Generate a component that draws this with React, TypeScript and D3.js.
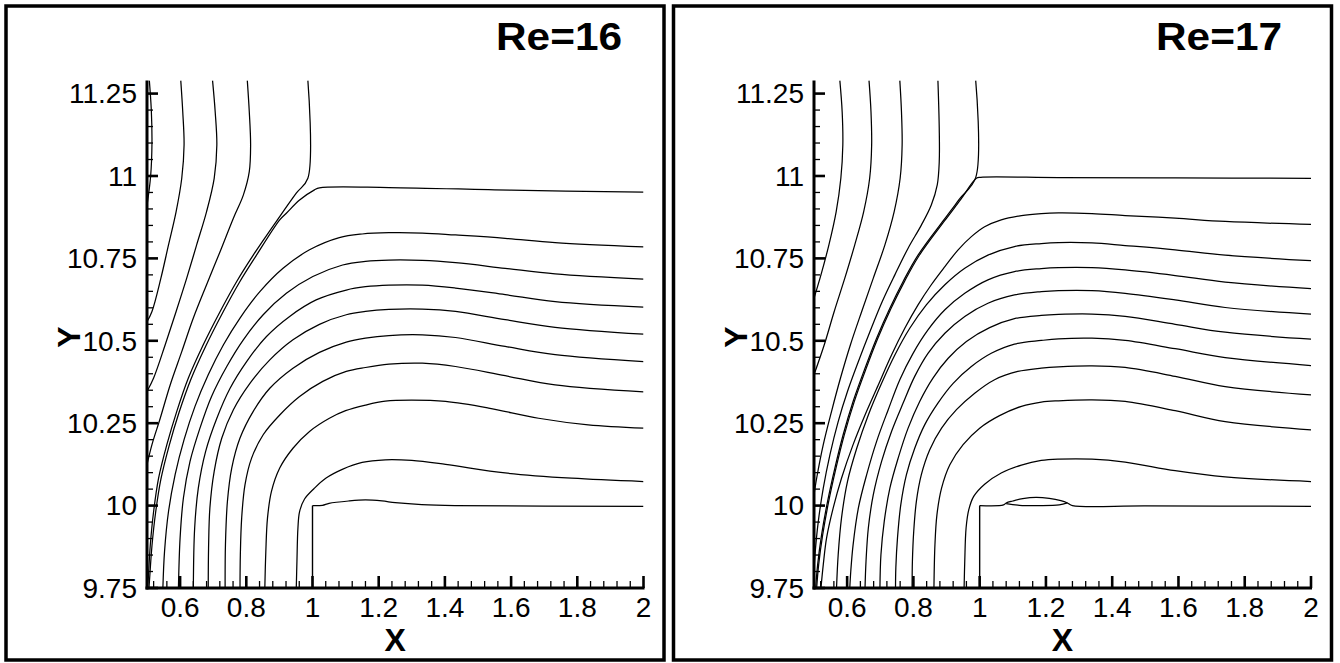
import React, { useRef, useEffect } from 'react';
import * as d3 from 'd3';

type Pt = [number, number];

const X_TICKS = [0.6, 0.8, 1, 1.2, 1.4, 1.6, 1.8, 2];
const Y_TICKS = [9.75, 10, 10.25, 10.5, 10.75, 11, 11.25];
const X_DOMAIN: Pt = [0.5, 2];
const Y_DOMAIN: Pt = [9.75, 11.29];
const X_MINOR_STEP = 0.04;
const Y_MINOR_STEP = 0.05;
const TITLES = ['Re=16', 'Re=17'];

// ---- Re=16 streamlines (x, y) ----
const re16A: Pt[] = [[0.507, 11.29], [0.513, 11.2], [0.515, 11.1], [0.511, 11.0], [0.5, 10.91]];
const re16B: Pt[] = [[0.602, 11.29], [0.608, 11.195], [0.612, 11.094], [0.605, 10.993], [0.588, 10.892], [0.565, 10.791], [0.542, 10.69], [0.515, 10.589], [0.5, 10.558]];
const re16C: Pt[] = [[0.698, 11.29], [0.706, 11.195], [0.711, 11.094], [0.703, 10.993], [0.68, 10.892], [0.65, 10.791], [0.62, 10.69], [0.588, 10.589], [0.555, 10.488], [0.52, 10.387], [0.5, 10.346]];
const re16D: Pt[] = [[0.803, 11.29], [0.809, 11.195], [0.813, 11.094], [0.809, 11.013], [0.791, 10.942], [0.761, 10.872], [0.721, 10.771], [0.68, 10.67], [0.64, 10.569], [0.605, 10.467], [0.57, 10.366], [0.54, 10.265], [0.515, 10.185], [0.5, 10.124]];
const re16E: Pt[] = [[0.986, 11.29], [0.986, 10.993], [0.951, 10.948], [0.894, 10.867], [0.821, 10.76], [0.771, 10.68], [0.721, 10.589], [0.67, 10.488], [0.625, 10.387], [0.59, 10.286], [0.56, 10.185], [0.535, 10.083], [0.52, 9.982], [0.51, 9.881], [0.504, 9.78], [0.502, 9.75]];
const re16R1: Pt[] = [[2.0, 10.951], [1.6, 10.957], [1.231, 10.965], [1.021, 10.964], [1.006, 10.958], [0.961, 10.927], [0.921, 10.887], [0.901, 10.867], [0.829, 10.757], [0.779, 10.677], [0.729, 10.586], [0.678, 10.485], [0.633, 10.384], [0.597, 10.283], [0.567, 10.182], [0.542, 10.08], [0.526, 9.979], [0.515, 9.878], [0.508, 9.78], [0.506, 9.75]];
const re16R2: Pt[] = [[2.0, 10.785], [1.733, 10.798], [1.582, 10.811], [1.432, 10.821], [1.332, 10.827], [1.231, 10.828], [1.15, 10.824], [1.081, 10.813], [0.991, 10.776], [0.911, 10.72], [0.841, 10.649], [0.781, 10.569], [0.731, 10.488], [0.685, 10.397], [0.645, 10.301], [0.612, 10.2], [0.585, 10.094], [0.565, 9.982], [0.553, 9.861], [0.548, 9.75]];
const re16R3: Pt[] = [[2.0, 10.687], [1.733, 10.703], [1.582, 10.72], [1.432, 10.737], [1.332, 10.744], [1.231, 10.745], [1.16, 10.741], [1.091, 10.73], [1.001, 10.695], [0.921, 10.644], [0.851, 10.579], [0.791, 10.503], [0.741, 10.422], [0.695, 10.331], [0.66, 10.235], [0.63, 10.134], [0.61, 10.023], [0.6, 9.902], [0.595, 9.75]];
const re16R4: Pt[] = [[2.0, 10.602], [1.733, 10.619], [1.582, 10.64], [1.432, 10.66], [1.332, 10.669], [1.231, 10.669], [1.16, 10.664], [1.102, 10.654], [1.011, 10.624], [0.931, 10.574], [0.861, 10.513], [0.801, 10.437], [0.751, 10.356], [0.711, 10.265], [0.677, 10.164], [0.655, 10.053], [0.644, 9.932], [0.64, 9.75]];
const re16R5: Pt[] = [[2.0, 10.52], [1.733, 10.541], [1.582, 10.564], [1.432, 10.589], [1.332, 10.596], [1.231, 10.595], [1.16, 10.589], [1.102, 10.579], [1.021, 10.55], [0.941, 10.503], [0.871, 10.442], [0.811, 10.371], [0.761, 10.291], [0.726, 10.205], [0.703, 10.104], [0.69, 9.993], [0.686, 9.871], [0.685, 9.75]];
const re16R6: Pt[] = [[2.0, 10.437], [1.733, 10.458], [1.582, 10.483], [1.432, 10.51], [1.332, 10.518], [1.231, 10.516], [1.16, 10.508], [1.102, 10.496], [1.021, 10.465], [0.941, 10.417], [0.871, 10.356], [0.821, 10.286], [0.781, 10.205], [0.756, 10.114], [0.743, 10.013], [0.737, 9.881], [0.736, 9.75]];
const re16R7: Pt[] = [[2.0, 10.345], [1.733, 10.366], [1.582, 10.394], [1.432, 10.422], [1.332, 10.432], [1.231, 10.429], [1.16, 10.419], [1.102, 10.407], [1.031, 10.377], [0.961, 10.331], [0.901, 10.275], [0.851, 10.215], [0.816, 10.144], [0.796, 10.063], [0.786, 9.962], [0.782, 9.851], [0.781, 9.75]];
const re16R8: Pt[] = [[2.0, 10.235], [1.833, 10.245], [1.683, 10.265], [1.532, 10.296], [1.402, 10.316], [1.3, 10.32], [1.22, 10.317], [1.16, 10.305], [1.1, 10.288], [1.051, 10.265], [0.991, 10.225], [0.941, 10.174], [0.901, 10.114], [0.876, 10.043], [0.864, 9.962], [0.859, 9.861], [0.856, 9.75]];
const re16R9: Pt[] = [[2.0, 10.073], [1.783, 10.083], [1.582, 10.099], [1.402, 10.125], [1.3, 10.137], [1.22, 10.139], [1.15, 10.131], [1.09, 10.11], [1.04, 10.083], [1.005, 10.052], [0.976, 10.02], [0.961, 9.982], [0.956, 9.932], [0.953, 9.831], [0.951, 9.75]];
const re16R10: Pt[] = [[1.0, 10.0], [1.03, 10.001], [1.05, 10.007], [1.11, 10.014], [1.16, 10.017], [1.21, 10.014], [1.25, 10.009], [1.33, 10.003], [1.43, 10.0], [2.0, 9.998]];
const re16Wall: Pt[] = [[1.0, 9.75], [1.0, 10.0]];

// ---- Re=17 streamlines ----
const re17A: Pt[] = [[0.578, 11.29], [0.585, 11.195], [0.587, 11.094], [0.581, 10.993], [0.567, 10.892], [0.545, 10.791], [0.521, 10.7], [0.5, 10.629]];
const re17B: Pt[] = [[0.666, 11.29], [0.672, 11.195], [0.674, 11.094], [0.668, 10.993], [0.65, 10.892], [0.623, 10.791], [0.593, 10.69], [0.561, 10.589], [0.531, 10.488], [0.5, 10.397]];
const re17C: Pt[] = [[0.759, 11.29], [0.764, 11.195], [0.766, 11.094], [0.76, 10.993], [0.742, 10.892], [0.714, 10.791], [0.679, 10.69], [0.644, 10.589], [0.61, 10.488], [0.58, 10.387], [0.553, 10.286], [0.528, 10.185], [0.508, 10.083], [0.5, 10.033]];
const re17D: Pt[] = [[0.874, 11.29], [0.878, 11.145], [0.878, 11.043], [0.872, 10.973], [0.854, 10.912], [0.824, 10.851], [0.784, 10.781], [0.744, 10.7], [0.706, 10.619], [0.669, 10.528], [0.634, 10.437], [0.601, 10.346], [0.573, 10.255], [0.548, 10.154], [0.528, 10.053], [0.513, 9.952], [0.503, 9.851], [0.5, 9.801]];
const re17E: Pt[] = [[0.988, 11.29], [0.988, 10.995], [0.94, 10.931], [0.892, 10.867], [0.814, 10.76], [0.769, 10.68], [0.729, 10.599], [0.689, 10.508], [0.654, 10.417], [0.618, 10.316], [0.588, 10.215], [0.563, 10.114], [0.541, 10.013], [0.523, 9.912], [0.511, 9.821], [0.505, 9.75]];
const re17R0: Pt[] = [[2.0, 10.993], [1.59, 10.994], [1.238, 10.995], [1.003, 10.996], [0.99, 10.993], [0.943, 10.929], [0.895, 10.865], [0.817, 10.758], [0.772, 10.678], [0.732, 10.597], [0.692, 10.506], [0.657, 10.415], [0.621, 10.314], [0.591, 10.213], [0.566, 10.112], [0.544, 10.011], [0.526, 9.91], [0.514, 9.82], [0.508, 9.75]];
const re17R1: Pt[] = [[2.0, 10.853], [1.741, 10.862], [1.59, 10.872], [1.439, 10.88], [1.339, 10.886], [1.238, 10.888], [1.186, 10.886], [1.126, 10.88], [1.065, 10.867], [1.015, 10.846], [0.975, 10.816], [0.935, 10.776], [0.895, 10.725], [0.854, 10.67], [0.814, 10.609], [0.774, 10.538], [0.734, 10.457], [0.694, 10.366], [0.654, 10.275], [0.618, 10.185], [0.583, 10.083], [0.558, 9.993], [0.538, 9.902], [0.528, 9.821], [0.521, 9.75]];
const re17R2: Pt[] = [[2.0, 10.743], [1.741, 10.76], [1.59, 10.776], [1.439, 10.789], [1.339, 10.797], [1.238, 10.798], [1.186, 10.795], [1.105, 10.786], [1.025, 10.76], [0.955, 10.72], [0.895, 10.67], [0.839, 10.609], [0.789, 10.538], [0.744, 10.457], [0.704, 10.371], [0.664, 10.275], [0.629, 10.174], [0.601, 10.073], [0.583, 9.962], [0.573, 9.851], [0.568, 9.75]];
const re17R3: Pt[] = [[2.0, 10.658], [1.741, 10.678], [1.59, 10.698], [1.439, 10.715], [1.339, 10.722], [1.238, 10.722], [1.186, 10.719], [1.105, 10.71], [1.025, 10.685], [0.955, 10.644], [0.895, 10.594], [0.844, 10.533], [0.799, 10.462], [0.759, 10.382], [0.724, 10.291], [0.689, 10.195], [0.659, 10.094], [0.634, 9.993], [0.618, 9.881], [0.611, 9.801], [0.608, 9.75]];
const re17R4: Pt[] = [[2.0, 10.581], [1.741, 10.601], [1.59, 10.624], [1.439, 10.644], [1.339, 10.652], [1.238, 10.652], [1.186, 10.649], [1.105, 10.639], [1.025, 10.614], [0.955, 10.574], [0.895, 10.523], [0.844, 10.462], [0.804, 10.392], [0.769, 10.311], [0.734, 10.225], [0.704, 10.134], [0.679, 10.033], [0.664, 9.932], [0.657, 9.831], [0.654, 9.75]];
const re17R5: Pt[] = [[2.0, 10.505], [1.741, 10.526], [1.59, 10.55], [1.439, 10.574], [1.339, 10.581], [1.238, 10.58], [1.186, 10.577], [1.105, 10.567], [1.03, 10.54], [0.96, 10.498], [0.905, 10.447], [0.859, 10.387], [0.819, 10.316], [0.784, 10.235], [0.754, 10.144], [0.729, 10.053], [0.712, 9.952], [0.702, 9.851], [0.699, 9.75]];
const re17R6: Pt[] = [[2.0, 10.425], [1.741, 10.449], [1.59, 10.476], [1.439, 10.501], [1.339, 10.508], [1.238, 10.506], [1.186, 10.501], [1.105, 10.49], [1.035, 10.462], [0.975, 10.422], [0.92, 10.371], [0.874, 10.311], [0.834, 10.245], [0.804, 10.174], [0.779, 10.094], [0.762, 10.003], [0.752, 9.902], [0.747, 9.811], [0.746, 9.75]];
const re17R7: Pt[] = [[2.0, 10.336], [1.741, 10.361], [1.59, 10.392], [1.439, 10.419], [1.339, 10.424], [1.238, 10.421], [1.186, 10.417], [1.115, 10.407], [1.045, 10.382], [0.985, 10.341], [0.93, 10.291], [0.885, 10.235], [0.849, 10.169], [0.824, 10.094], [0.809, 10.013], [0.801, 9.922], [0.797, 9.831], [0.796, 9.75]];
const re17R8: Pt[] = [[2.0, 10.23], [1.741, 10.255], [1.59, 10.288], [1.439, 10.316], [1.339, 10.321], [1.238, 10.318], [1.186, 10.314], [1.126, 10.301], [1.06, 10.273], [1.0, 10.235], [0.95, 10.185], [0.91, 10.124], [0.885, 10.053], [0.871, 9.972], [0.865, 9.881], [0.862, 9.75]];
const re17R9: Pt[] = [[2.0, 10.073], [1.741, 10.087], [1.59, 10.106], [1.439, 10.132], [1.339, 10.141], [1.238, 10.141], [1.186, 10.137], [1.126, 10.123], [1.065, 10.099], [1.015, 10.065], [0.982, 10.028], [0.967, 9.987], [0.959, 9.932], [0.955, 9.831], [0.953, 9.75]];
const re17R10: Pt[] = [[1.0, 10.0], [1.072, 10.002], [1.08, 10.008], [1.1, 10.014], [1.13, 10.021], [1.17, 10.025], [1.21, 10.022], [1.245, 10.015], [1.265, 10.008], [1.28, 10.0], [1.5, 9.999], [2.0, 9.998]];
const re17Bubble: Pt[] = [[1.08, 10.006], [1.12, 10.001], [1.18, 10.0], [1.24, 10.002], [1.265, 10.008]];
const re17Wall: Pt[] = [[1.0, 9.75], [1.0, 10.0]];

const re16Lines = [re16A, re16B, re16C, re16D, re16E, re16R1, re16R2, re16R3, re16R4, re16R5, re16R6, re16R7, re16R8, re16R9, re16R10];
const re17Lines = [re17A, re17B, re17C, re17D, re17E, re17R0, re17R1, re17R2, re17R3, re17R4, re17R5, re17R6, re17R7, re17R8, re17R9, re17R10, re17Bubble];

const FONT = "'Liberation Sans', Arial, Helvetica, sans-serif";

const PANELS = [
  { title: TITLES[0], lines: re16Lines, wall: re16Wall, frameX: 6, x0: 147, x1: 643.5, titleX: 622, yLabelX: 80 },
  { title: TITLES[1], lines: re17Lines, wall: re17Wall, frameX: 673.5, x0: 814, x1: 1311, titleX: 1282, yLabelX: 747 },
];

const isMajor = (v: number, step: number) => Math.abs(v / step - Math.round(v / step)) < 1e-6;

function drawPanel(svg: any, p: typeof PANELS[number], i: number) {
  const x = d3.scaleLinear().domain(X_DOMAIN).range([p.x0, p.x1]);
  const y = d3.scaleLinear().domain(Y_DOMAIN).range([588, 80.4]);
  const g = svg.append('g');

  g.append('rect')
    .attr('x', p.frameX).attr('y', 6).attr('width', 658).attr('height', 654)
    .attr('fill', 'none').attr('stroke', '#000').attr('stroke-width', 3.5);

  const clipId = 'plotclip' + i;
  g.append('clipPath').attr('id', clipId)
    .append('rect')
    .attr('x', x(X_DOMAIN[0])).attr('y', y(Y_DOMAIN[1]))
    .attr('width', x(X_DOMAIN[1]) - x(X_DOMAIN[0]))
    .attr('height', y(Y_DOMAIN[0]) - y(Y_DOMAIN[1]));

  const line = d3.line<Pt>().x(d => x(d[0])).y(d => y(d[1])).curve(d3.curveCatmullRom.alpha(0.5));
  const straight = d3.line<Pt>().x(d => x(d[0])).y(d => y(d[1]));

  const plot = g.append('g').attr('clip-path', `url(#${clipId})`);
  plot.selectAll('path.stream')
    .data(p.lines)
    .join('path')
    .attr('class', 'stream')
    .attr('d', line)
    .attr('fill', 'none')
    .attr('stroke', '#000')
    .attr('stroke-width', 1.25);
  plot.append('path').attr('d', straight(p.wall)).attr('fill', 'none').attr('stroke', '#000').attr('stroke-width', 1.4);

  // minor ticks
  const xMinor = d3.range(0.52, 2, X_MINOR_STEP).filter(v => !isMajor(v, 0.2));
  const yMinor = d3.range(9.8, 11.25, Y_MINOR_STEP).filter(v => !isMajor(v, 0.25));
  g.selectAll('line.xminor').data(xMinor).join('line')
    .attr('x1', d => x(d)).attr('x2', d => x(d))
    .attr('y1', y(9.75)).attr('y2', y(9.75) - 7)
    .attr('stroke', '#000').attr('stroke-width', 1.3);
  g.selectAll('line.yminor').data(yMinor).join('line')
    .attr('x1', x(0.5)).attr('x2', x(0.5) + 6)
    .attr('y1', d => y(d)).attr('y2', d => y(d))
    .attr('stroke', '#000').attr('stroke-width', 1.3);

  // major ticks
  g.selectAll('line.xmajor').data(X_TICKS).join('line')
    .attr('x1', d => x(d)).attr('x2', d => x(d))
    .attr('y1', y(9.75)).attr('y2', y(9.75) - 12)
    .attr('stroke', '#000').attr('stroke-width', 2.6);
  g.selectAll('line.ymajor').data(Y_TICKS).join('line')
    .attr('x1', x(0.5)).attr('x2', x(0.5) + 11)
    .attr('y1', d => y(d)).attr('y2', d => y(d))
    .attr('stroke', '#000').attr('stroke-width', 2.6);

  // axis lines
  g.append('line')
    .attr('x1', x(0.5)).attr('x2', x(0.5))
    .attr('y1', y(9.75) + 1.5).attr('y2', y(Y_DOMAIN[1]))
    .attr('stroke', '#000').attr('stroke-width', 3);
  g.append('line')
    .attr('x1', x(0.5) - 1.5).attr('x2', x(2) + 1)
    .attr('y1', y(9.75)).attr('y2', y(9.75))
    .attr('stroke', '#000').attr('stroke-width', 3);

  // tick labels
  g.selectAll('text.xlab').data(X_TICKS).join('text')
    .attr('x', d => x(d)).attr('y', 617)
    .attr('text-anchor', 'middle')
    .attr('font-family', FONT).attr('font-size', 28)
    .text(d => String(d));
  g.selectAll('text.ylab').data(Y_TICKS).join('text')
    .attr('x', x(0.5) - 10).attr('y', d => y(d))
    .attr('dy', '0.35em')
    .attr('text-anchor', 'end')
    .attr('font-family', FONT).attr('font-size', 28)
    .text(d => String(d));

  // axis titles
  g.append('text')
    .attr('x', (x(0.5) + x(2)) / 2).attr('y', 651)
    .attr('text-anchor', 'middle')
    .attr('font-family', FONT).attr('font-size', 32).attr('font-weight', 'bold')
    .text('X');
  g.append('text')
    .attr('transform', `translate(${p.yLabelX},${(y(9.75) + y(Y_DOMAIN[1])) / 2 + 3}) rotate(-90)`)
    .attr('text-anchor', 'middle')
    .attr('font-family', FONT).attr('font-size', 32).attr('font-weight', 'bold')
    .text('Y');

  // panel title
  g.append('text')
    .attr('x', p.titleX).attr('y', 50)
    .attr('text-anchor', 'end')
    .attr('font-family', FONT).attr('font-size', 38).attr('font-weight', 'bold')
    .attr('textLength', 126).attr('lengthAdjust', 'spacingAndGlyphs')
    .text(p.title);
}

export default function App() {
  const ref = useRef<SVGSVGElement>(null);

  useEffect(() => {
    const svg = d3.select(ref.current);
    svg.selectAll('*').remove();
    PANELS.forEach((p, i) => drawPanel(svg, p, i));
  }, []);

  return (
    <svg
      ref={ref}
      width={1340}
      height={663}
      style={{ position: 'absolute', left: 0, top: 0, background: '#fff' }}
    />
  );
}
